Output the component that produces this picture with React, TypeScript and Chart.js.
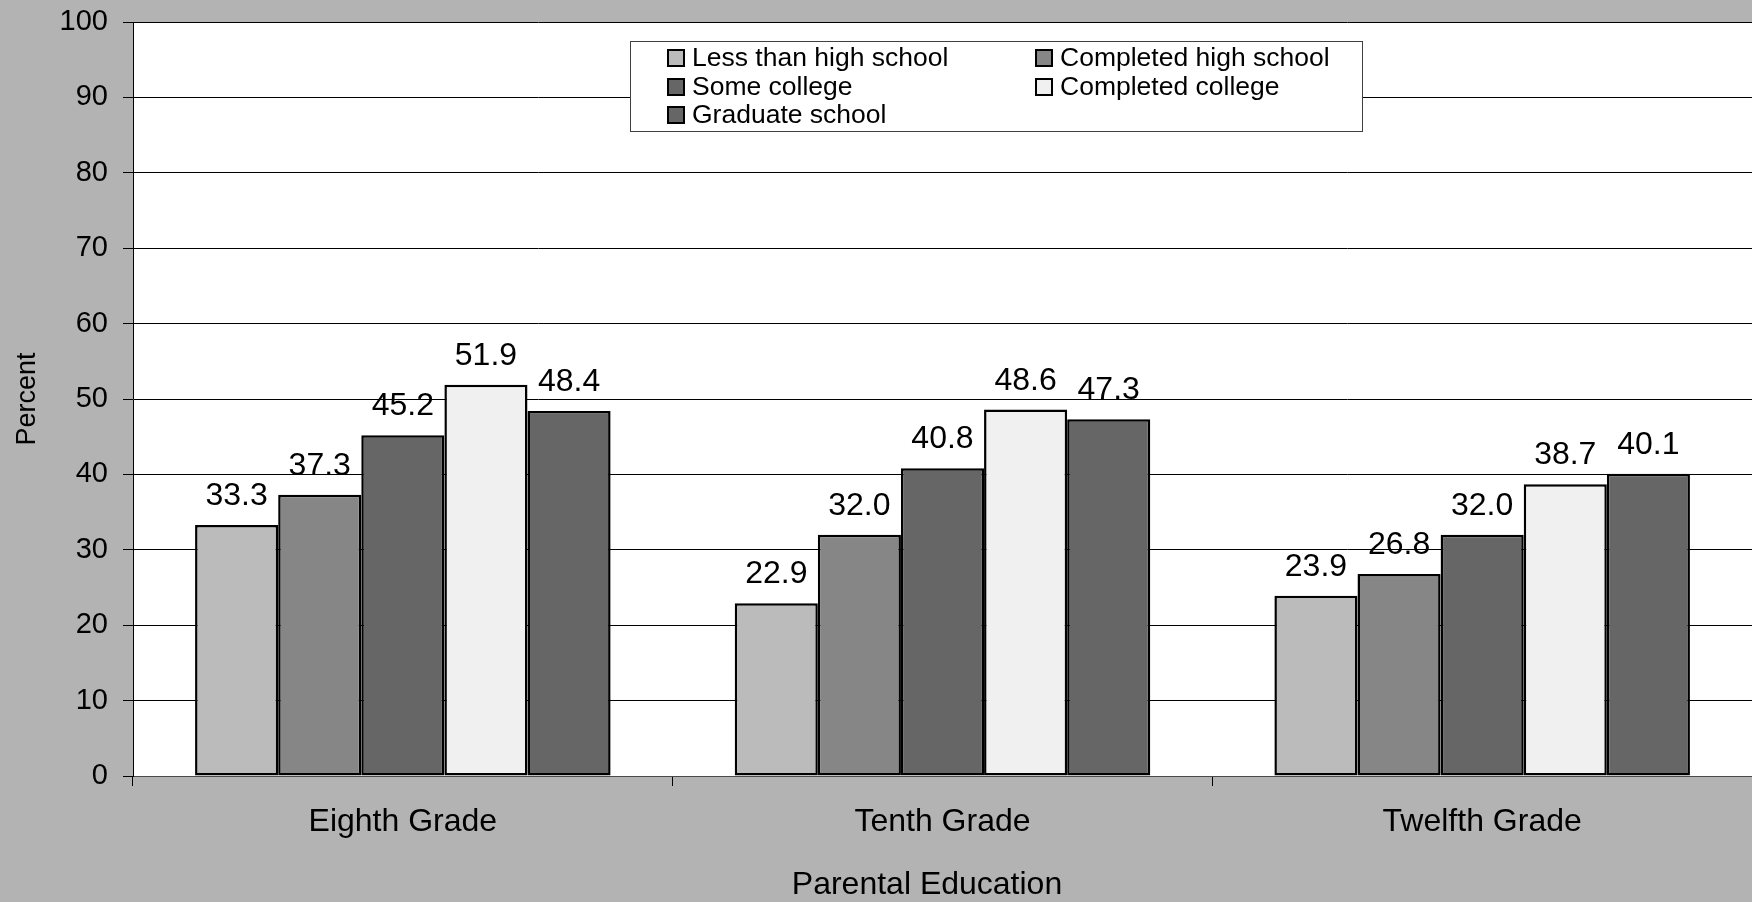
import React, { useEffect, useRef } from "react";
import { Chart, registerables } from "chart.js";

Chart.register(...registerables);

const categories = ["Eighth Grade", "Tenth Grade", "Twelfth Grade"];
const seriesNames = [
  "Less than high school",
  "Completed high school",
  "Some college",
  "Completed college",
  "Graduate school",
];
const lessThanHighSchool = [33.3, 22.9, 23.9];
const completedHighSchool = [37.3, 32.0, 26.8];
const someCollege = [45.2, 40.8, 32.0];
const completedCollege = [51.9, 48.6, 38.7];
const graduateSchool = [48.4, 47.3, 40.1];
const seriesColors = ["#bbbbbb", "#868686", "#666666", "#f0f0f0", "#666666"];
const yTicks = [0, 10, 20, 30, 40, 50, 60, 70, 80, 90, 100];
const xTitle = "Parental Education";

const FONT = "'Liberation Sans', Arial, sans-serif";

const plotBackground = {
  id: "plotBackground",
  beforeDraw(chart: any) {
    const { ctx, chartArea } = chart;
    ctx.save();
    ctx.fillStyle = "#ffffff";
    ctx.fillRect(chartArea.left, chartArea.top, chartArea.right - chartArea.left, chartArea.bottom - chartArea.top);
    ctx.restore();
  },
};

const valueLabels = {
  id: "valueLabels",
  afterDatasetsDraw(chart: any) {
    const { ctx } = chart;
    ctx.save();
    ctx.font = `32px ${FONT}`;
    ctx.fillStyle = "#000";
    ctx.textAlign = "center";
    ctx.textBaseline = "alphabetic";
    chart.data.datasets.forEach((ds: any, i: number) => {
      const meta = chart.getDatasetMeta(i);
      meta.data.forEach((bar: any, j: number) => {
        const v = ds.data[j];
        ctx.fillText(Number(v).toFixed(1), bar.x, bar.y - 20);
      });
    });
    ctx.restore();
  },
};

const xAxisTitle = {
  id: "xAxisTitle",
  afterDraw(chart: any) {
    const { ctx } = chart;
    ctx.save();
    ctx.font = `32px ${FONT}`;
    ctx.fillStyle = "#000";
    ctx.textAlign = "center";
    ctx.textBaseline = "middle";
    ctx.fillText(xTitle, 927, 885);
    ctx.restore();
  },
};

const boxLegend = {
  id: "boxLegend",
  afterDraw(chart: any) {
    const { ctx } = chart;
    const left = 630, top = 41, width = 733, height = 91;
    ctx.save();
    ctx.fillStyle = "#ffffff";
    ctx.fillRect(left, top, width, height);
    ctx.strokeStyle = "#404040";
    ctx.lineWidth = 1;
    ctx.strokeRect(left + 0.5, top + 0.5, width - 1, height - 1);
    const colX = [667, 1035];
    const rowY = [58, 87, 115];
    ctx.font = `26.5px ${FONT}`;
    ctx.textBaseline = "middle";
    ctx.textAlign = "left";
    chart.data.datasets.forEach((ds: any, i: number) => {
      const x = colX[i % 2];
      const y = rowY[Math.floor(i / 2)];
      ctx.fillStyle = ds.backgroundColor;
      ctx.fillRect(x, y - 9, 18, 18);
      ctx.strokeStyle = "#000";
      ctx.lineWidth = 2;
      ctx.strokeRect(x + 1, y - 8, 16, 16);
      ctx.fillStyle = "#000";
      ctx.fillText(ds.label, x + 25, y + 1);
    });
    ctx.restore();
  },
};

export default function App() {
  const canvasRef = useRef<HTMLCanvasElement | null>(null);

  useEffect(() => {
    if (!canvasRef.current) return;
    const values = [lessThanHighSchool, completedHighSchool, someCollege, completedCollege, graduateSchool];
    const chart = new Chart(canvasRef.current, {
      type: "bar",
      data: {
        labels: categories,
        datasets: values.map((data, i) => ({
          label: seriesNames[i],
          data,
          backgroundColor: seriesColors[i],
          borderColor: "#000000",
          borderWidth: 2.5,
          borderSkipped: false,
          barPercentage: 1.0,
          categoryPercentage: 0.77,
        })),
      },
      options: {
        animation: false,
        responsive: false,
        devicePixelRatio: 1,
        layout: { padding: { top: 22, left: 0, right: 0, bottom: 0 } },
        plugins: {
          legend: { display: false },
          tooltip: { enabled: false },
        },
        scales: {
          x: {
            offset: true,
            grid: {
              offset: true,
              drawOnChartArea: false,
              drawTicks: true,
              tickLength: 10,
              color: "#000",
              lineWidth: 1,
            },
            border: { display: true, color: "#4a4a4a", width: 1 },
            ticks: {
              color: "#000",
              font: { family: FONT, size: 32 },
              padding: 17,
              maxRotation: 0,
            },
            title: { display: false },
            afterFit(scale: any) {
              scale.height = 126;
              scale.paddingLeft = 0;
              scale.paddingRight = 0;
            },
          },
          y: {
            min: 0,
            max: 100,
            afterBuildTicks(scale: any) {
              scale.ticks = yTicks.map((v) => ({ value: v }));
            },
            grid: {
              color: "#000",
              lineWidth: 1,
              tickLength: 10,
            },
            border: { display: true, color: "#000", width: 1 },
            ticks: {
              color: "#000",
              font: { family: FONT, size: 29 },
              padding: 15,
            },
            title: {
              display: true,
              text: "Percent",
              color: "#000",
              font: { family: FONT, size: 27 },
              padding: { top: 11, bottom: 0 },
            },
            afterFit(scale: any) {
              scale.width = 133;
              scale.paddingTop = 0;
              scale.paddingBottom = 0;
            },
          },
        },
      },
      plugins: [plotBackground, valueLabels, boxLegend, xAxisTitle],
    });
    return () => chart.destroy();
  }, []);

  return (
    <div
      style={{
        position: "absolute",
        left: 0,
        top: 0,
        width: 1752,
        height: 902,
        background: "#b3b3b3",
      }}
    >
      <canvas ref={canvasRef} width={1752} height={902} />
    </div>
  );
}
